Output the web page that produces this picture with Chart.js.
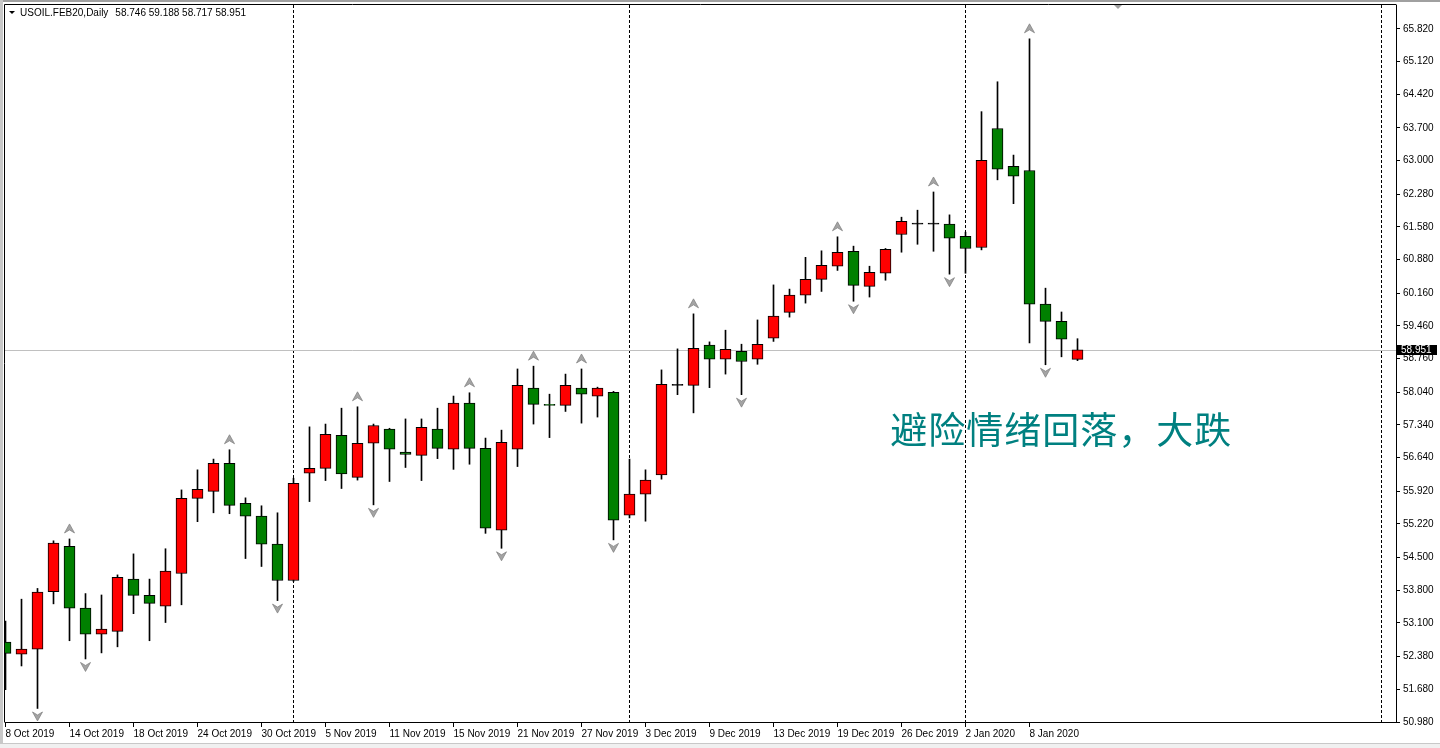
<!DOCTYPE html>
<html>
<head>
<meta charset="utf-8">
<title>USOIL.FEB20,Daily</title>
<script src="https://cdn.jsdelivr.net/npm/chart.js@4/dist/chart.umd.min.js"></script>
<style>
  html, body { margin: 0; padding: 0; background: #fff; }
  canvas { display: block; }
</style>
</head>
<body>
<canvas id="myChart" width="1440" height="748"></canvas>
<script>
const symbolName = 'USOIL.FEB20,Daily';

// one entry per daily bar
const dates = [
  '2019-10-08','2019-10-09','2019-10-10','2019-10-11','2019-10-14','2019-10-15','2019-10-16','2019-10-17','2019-10-18',
  '2019-10-21','2019-10-22','2019-10-23','2019-10-24','2019-10-25','2019-10-28','2019-10-29','2019-10-30','2019-10-31',
  '2019-11-01','2019-11-04','2019-11-05','2019-11-06','2019-11-07','2019-11-08','2019-11-11','2019-11-12','2019-11-13',
  '2019-11-14','2019-11-15','2019-11-18','2019-11-19','2019-11-20','2019-11-21','2019-11-22','2019-11-25','2019-11-26',
  '2019-11-27','2019-11-28','2019-11-29','2019-12-02','2019-12-03','2019-12-04','2019-12-05','2019-12-06','2019-12-09',
  '2019-12-10','2019-12-11','2019-12-12','2019-12-13','2019-12-16','2019-12-17','2019-12-18','2019-12-19','2019-12-20',
  '2019-12-23','2019-12-24','2019-12-26','2019-12-27','2019-12-30','2019-12-31','2020-01-02','2020-01-03','2020-01-06',
  '2020-01-07','2020-01-08','2020-01-09','2020-01-10','2020-01-13'
];
const opens = [
  52.69, 52.43, 52.54, 53.77, 54.74, 53.42, 52.86, 52.92, 54.04,
  53.69, 53.46, 54.16, 55.77, 55.92, 56.52, 55.66, 55.39, 54.79,
  54.01, 56.31, 56.41, 57.12, 56.22, 56.95, 57.25, 56.76, 56.69,
  57.25, 56.82, 57.81, 56.84, 55.09, 56.82, 58.13, 57.78, 57.76,
  58.13, 57.96, 58.04, 55.41, 55.86, 56.27, 58.19, 58.19, 59.05,
  58.75, 58.92, 58.75, 59.20, 59.75, 60.12, 60.46, 60.74, 61.06,
  60.31, 60.59, 61.42, 61.64, 61.64, 61.64, 61.38, 61.14, 63.69,
  62.88, 62.79, 59.93, 59.56, 58.746
];
const highs = [
  53.14, 53.61, 53.84, 54.86, 54.90, 53.73, 53.70, 54.13, 54.58,
  54.04, 54.69, 55.95, 56.38, 56.61, 56.81, 55.78, 55.61, 55.46,
  56.20, 57.30, 57.36, 57.70, 57.73, 57.36, 57.27, 57.47, 57.47,
  57.70, 57.96, 58.03, 57.06, 57.23, 58.54, 58.60, 58.00, 58.43,
  58.54, 58.15, 58.06, 56.61, 56.38, 58.52, 58.97, 59.72, 59.12,
  59.37, 59.07, 59.59, 60.34, 60.25, 60.93, 61.07, 61.37, 61.17,
  60.74, 61.12, 61.79, 61.94, 62.33, 61.84, 61.47, 64.05, 64.69,
  63.12, 65.61, 60.27, 59.76, 59.188
];
const lows = [
  51.67, 52.18, 51.27, 53.51, 52.72, 52.33, 52.46, 52.59, 53.30,
  52.72, 53.11, 53.49, 55.27, 55.46, 55.44, 54.48, 54.31, 53.58,
  53.99, 55.70, 56.15, 55.98, 56.16, 55.63, 56.13, 56.43, 56.15,
  56.62, 56.39, 56.50, 55.02, 54.70, 56.45, 57.36, 57.07, 57.63,
  57.38, 57.51, 54.88, 55.35, 55.28, 56.18, 57.99, 57.60, 58.14,
  58.43, 57.99, 58.64, 59.13, 59.65, 59.95, 60.20, 60.65, 59.99,
  60.08, 60.44, 61.04, 61.21, 61.06, 60.57, 60.59, 61.09, 62.59,
  62.08, 59.10, 58.63, 58.80, 58.717
];
const closes = [
  52.45, 52.54, 53.76, 54.81, 53.42, 52.86, 52.97, 54.08, 53.69,
  53.52, 54.21, 55.77, 55.96, 56.52, 55.62, 55.39, 54.79, 54.01,
  56.09, 56.41, 57.14, 56.29, 56.95, 57.33, 56.82, 56.71, 57.29,
  56.84, 57.81, 56.84, 55.13, 56.97, 58.19, 57.78, 57.76, 58.19,
  58.00, 58.13, 55.30, 55.86, 56.16, 58.21, 58.19, 58.98, 58.75,
  58.96, 58.70, 59.07, 59.67, 60.12, 60.46, 60.76, 61.04, 60.33,
  60.61, 61.10, 61.70, 61.64, 61.64, 61.34, 61.12, 63.01, 62.82,
  62.67, 59.93, 59.56, 59.18, 58.951
];

// axis labels as shown by the terminal
const xTickLabels = [
  '8 Oct 2019', '14 Oct 2019', '18 Oct 2019', '24 Oct 2019', '30 Oct 2019', '5 Nov 2019',
  '11 Nov 2019', '15 Nov 2019', '21 Nov 2019', '27 Nov 2019', '3 Dec 2019', '9 Dec 2019',
  '13 Dec 2019', '19 Dec 2019', '26 Dec 2019', '2 Jan 2020', '8 Jan 2020'
];
const xTickEvery = 4;
const yTickLabels = [
  '65.820', '65.120', '64.420', '63.700', '63.000', '62.280', '61.580', '60.880', '60.160', '59.460', '58.760',
  '58.040', '57.340', '56.640', '55.920', '55.220', '54.500', '53.800', '53.100', '52.380', '51.680', '50.980'
];

const noteText = '避险情绪回落，大跌';
const noteAt = [55.3, 57.23];
const rightLineAt = 86;
const shiftMarkerAt = 69.5;

const upColor = '#ff0000';
const downColor = '#008000';

const last = closes.length - 1;

// month separators
const separators = [];
for (let i = 1; i < dates.length; i++) {
  if (dates[i].slice(5, 7) !== dates[i - 1].slice(5, 7)) separators.push(i);
}

// Bill Williams fractals
const fractalUp = [];
const fractalDown = [];
for (let i = 2; i < highs.length - 2; i++) {
  if (highs[i] > highs[i + 1] && highs[i] > highs[i + 2] && highs[i] >= highs[i - 1] && highs[i] >= highs[i - 2]) fractalUp.push(i);
  if (lows[i] < lows[i + 1] && lows[i] < lows[i + 2] && lows[i] <= lows[i - 1] && lows[i] <= lows[i - 2]) fractalDown.push(i);
}

function bodyColor(i) {
  if (opens[i] === closes[i]) return '#000';
  return closes[i] > opens[i] ? upColor : downColor;
}

function drawArrow(c, x, y, dir) {
  // dir -1 = up, 1 = down
  const tip = dir === -1 ? y - 4.5 : y + 4.5;
  const base = dir === -1 ? y + 4.5 : y - 4.5;
  const notch = dir === -1 ? y + 1.5 : y - 1.5;
  c.beginPath();
  c.moveTo(x, tip);
  c.lineTo(x + 5, base);
  c.lineTo(x, notch);
  c.lineTo(x - 5, base);
  c.closePath();
  c.fillStyle = '#a4a4a4';
  c.fill();
  c.strokeStyle = '#7c7c7c';
  c.lineWidth = 0.7;
  c.stroke();
}

const mtPlugin = {
  id: 'mtDecor',
  beforeDraw(chart) {
    const c = chart.ctx;
    c.save();
    c.fillStyle = '#ffffff';
    c.fillRect(0, 0, chart.width, chart.height);
    c.fillStyle = '#a0a0a0';
    c.fillRect(0, 0, chart.width, 2);
    c.fillStyle = '#c8c8c8';
    c.fillRect(0, 0, 3, chart.height);
    c.fillStyle = '#f0f0f0';
    c.fillRect(0, chart.height - 4, chart.width, 4);
    c.fillStyle = '#c8c8c8';
    c.fillRect(0, chart.height - 5, chart.width, 1);
    c.restore();
  },
  beforeDatasetsDraw(chart) {
    const c = chart.ctx;
    const area = chart.chartArea;
    const xs = chart.scales.x;
    const ys = chart.scales.y;
    c.save();
    c.strokeStyle = '#000';
    c.lineWidth = 1;
    c.setLineDash([3, 2]);
    separators.concat([rightLineAt]).forEach(i => {
      const px = Math.floor(xs.getPixelForValue(i)) + 0.5;
      c.beginPath();
      c.moveTo(px, area.top);
      c.lineTo(px, area.bottom);
      c.stroke();
    });
    c.setLineDash([]);
    // current price line
    const py = Math.round(ys.getPixelForValue(closes[last])) + 0.5;
    c.strokeStyle = '#c0c0c0';
    c.beginPath();
    c.moveTo(area.left, py);
    c.lineTo(area.right, py);
    c.stroke();
    c.restore();
  },
  afterDatasetsDraw(chart) {
    const c = chart.ctx;
    const area = chart.chartArea;
    const xs = chart.scales.x;
    const ys = chart.scales.y;
    c.save();
    c.beginPath();
    c.rect(area.left, area.top, area.right - area.left, area.bottom - area.top);
    c.clip();
    fractalUp.forEach(i => drawArrow(c, xs.getPixelForValue(i), ys.getPixelForValue(highs[i]) - 10.5, -1));
    fractalDown.forEach(i => drawArrow(c, xs.getPixelForValue(i), ys.getPixelForValue(lows[i]) + 8, 1));
    c.restore();

    c.save();
    // frame on left and top
    c.strokeStyle = '#000';
    c.lineWidth = 1;
    c.beginPath();
    c.moveTo(area.left - 0.5, area.bottom + 0.5);
    c.lineTo(area.left - 0.5, area.top - 0.5);
    c.lineTo(area.right + 0.5, area.top - 0.5);
    c.stroke();

    // header
    c.fillStyle = '#000';
    c.beginPath();
    c.moveTo(9, 11);
    c.lineTo(15, 11);
    c.lineTo(12, 14);
    c.closePath();
    c.fill();
    c.font = '10px "Liberation Sans", Arial, sans-serif';
    c.textBaseline = 'middle';
    c.textAlign = 'left';
    c.fillText(symbolName, 20, 13);
    const ohlc = [opens[last], highs[last], lows[last], closes[last]].map(v => v.toFixed(3)).join(' ');
    c.fillText(ohlc, 20 + c.measureText(symbolName).width + 7, 13);

    // note
    c.fillStyle = '#008080';
    c.font = '37px "Noto Sans CJK SC", sans-serif';
    c.letterSpacing = '1px';
    c.textBaseline = 'middle';
    c.fillText(noteText, xs.getPixelForValue(noteAt[0]), ys.getPixelForValue(noteAt[1]));
    c.restore();
  },
  afterDraw(chart) {
    const c = chart.ctx;
    const area = chart.chartArea;
    const xs = chart.scales.x;
    const ys = chart.scales.y;
    c.save();
    // current price label
    const py = Math.round(ys.getPixelForValue(closes[last]));
    c.fillStyle = '#000';
    c.fillRect(area.right + 1, py - 5, 40, 10);
    c.fillStyle = '#fff';
    c.font = '10px "Liberation Sans", Arial, sans-serif';
    c.textBaseline = 'middle';
    c.textAlign = 'left';
    c.fillText(closes[last].toFixed(3), area.right + 5, py + 0.5);
    // chart shift marker
    const sx = Math.round(xs.getPixelForValue(shiftMarkerAt));
    c.fillStyle = '#a0a0a0';
    c.beginPath();
    c.moveTo(sx - 4, area.top);
    c.lineTo(sx + 4, area.top);
    c.lineTo(sx, area.top + 4);
    c.closePath();
    c.fill();
    c.restore();
  }
};

const ctx = document.getElementById('myChart');

Chart.defaults.font.family = '"Liberation Sans", Arial, sans-serif';
Chart.defaults.font.size = 10;
Chart.defaults.color = '#000';

const config = {
  type: 'bar',
  data: {
    datasets: [
      {
        label: 'body',
        data: dates.map((d, i) => ({ x: i, y: [opens[i], closes[i]] })),
        backgroundColor: dates.map((d, i) => bodyColor(i)),
        borderColor: '#000',
        borderWidth: 1,
        borderSkipped: false,
        barThickness: 11,
        minBarLength: 1,
        grouped: false,
        order: 0,
        clip: 0
      },
      {
        label: 'wick',
        data: dates.map((d, i) => ({ x: i, y: [lows[i], highs[i]] })),
        backgroundColor: '#000',
        borderWidth: 0,
        barThickness: 1,
        grouped: false,
        order: 1,
        clip: 0
      }
    ]
  },
  options: {
    responsive: false,
    animation: false,
    events: [],
    layout: { padding: { left: 5, top: 5, right: 0, bottom: 0 } },
    scales: {
      x: {
        type: 'linear',
        offset: false,
        min: -0.03125,
        max: -0.03125 + 1391 / 16,
        grid: { display: true, drawOnChartArea: false, drawTicks: true, tickLength: 5, tickColor: '#000', offset: false },
        border: { display: true, color: '#000', width: 1 },
        ticks: {
          autoSkip: false,
          maxRotation: 0,
          minRotation: 0,
          align: 'start',
          padding: 1,
          callback: (value, index) => xTickLabels[index]
        },
        afterBuildTicks: scale => {
          scale.ticks = xTickLabels.map((t, i) => ({ value: i * xTickEvery }));
        },
        afterFit: scale => {
          scale.height = 26;
          scale.paddingLeft = 0;
          scale.paddingRight = 0;
        }
      },
      y: {
        type: 'linear',
        position: 'right',
        beginAtZero: false,
        min: 50.98,
        max: 50.98 + 717 * 0.021414,
        grid: { display: true, drawOnChartArea: false, drawTicks: true, tickLength: 4, tickColor: '#000' },
        border: { display: true, color: '#000', width: 1 },
        ticks: {
          padding: 3,
          callback: (value, index) => yTickLabels[index]
        },
        afterBuildTicks: scale => {
          scale.ticks = yTickLabels.map(t => ({ value: parseFloat(t) }));
        },
        afterFit: scale => {
          scale.width = 44;
          scale.paddingTop = 0;
          scale.paddingBottom = 0;
        }
      }
    },
    plugins: {
      legend: { display: false },
      tooltip: { enabled: false }
    }
  },
  plugins: [mtPlugin]
};

const myChart = new Chart(ctx, config);
</script>
</body>
</html>
